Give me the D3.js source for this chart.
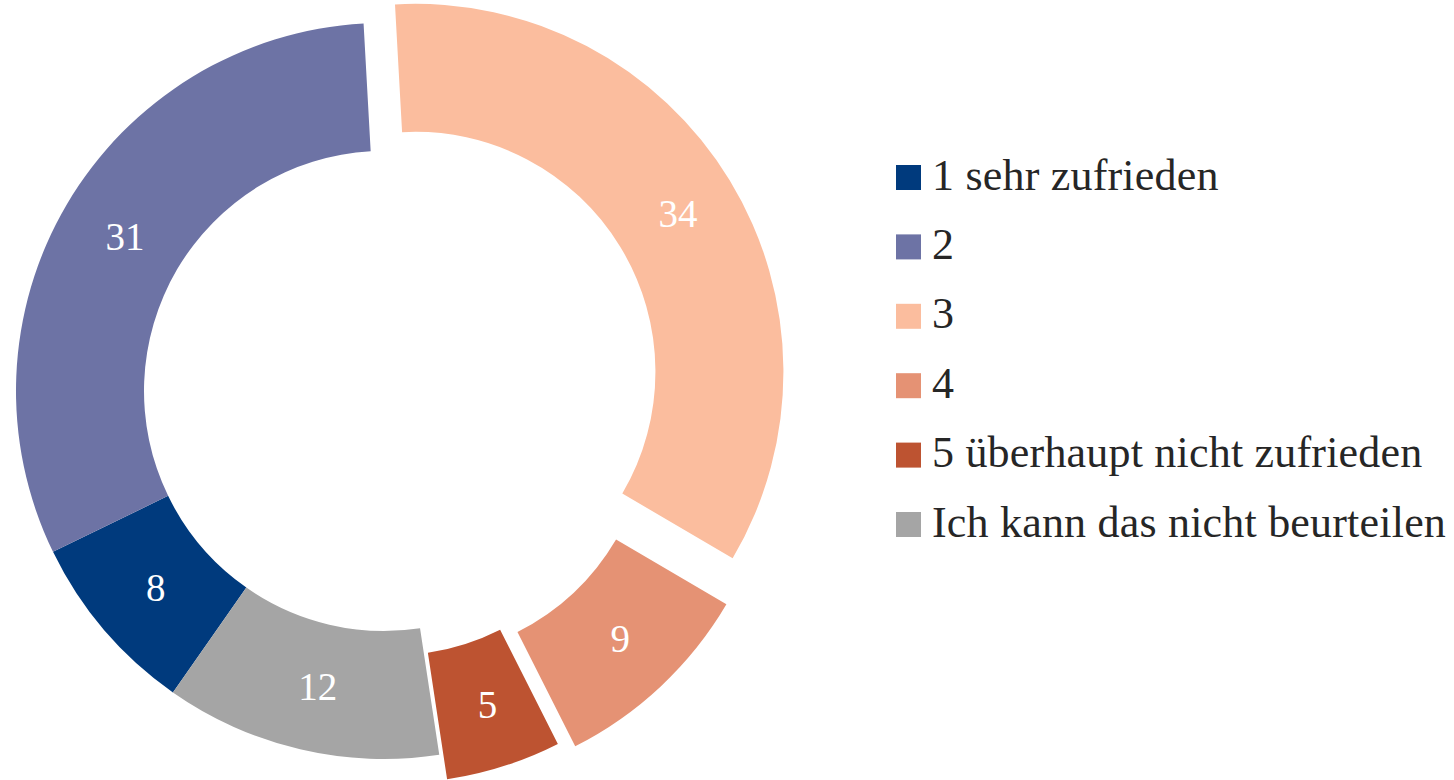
<!DOCTYPE html>
<html>
<head>
<meta charset="utf-8">
<script src="https://cdn.jsdelivr.net/npm/d3@7"></script>
<style>
  html, body { margin: 0; padding: 0; background: #fff; }
  svg { display: block; }
</style>
</head>
<body>
<div id="chart"></div>
<script>
// data
const categories = ['1 sehr zufrieden', '2', '3', '4', '5 überhaupt nicht zufrieden', 'Ich kann das nicht beurteilen']
const values = [8, 31, 34, 9, 5, 12]
const colors = ['#003a7d', '#6d73a5', '#fbbd9e', '#e59274', '#bd5331', '#a5a5a5']
// how far each slice is pulled out (fraction of the outer radius)
const explode = [0, 0, 0.1, 0.1, 0.07, 0]

// canvas
const width = 1454,
      height = 780,
      cx = 384,
      cy = 391,
      outerR = 368,
      innerR = 240,
      firstAngle = 215 * Math.PI / 180,
      font = '"Palatino Linotype", "Book Antiqua", Palatino, "Liberation Serif", serif'

let svg = d3.select('#chart')
  .append('svg')
  .attr('width', width)
  .attr('height', height)

let color = d3.scaleOrdinal().domain(categories).range(colors)

let pie = d3.pie()
  .sort(null)
  .value(d => d.value)
  .startAngle(firstAngle)
  .endAngle(firstAngle + 2 * Math.PI)

let arc = d3.arc()
  .innerRadius(innerR)
  .outerRadius(outerR)

let rows = categories.map((c, i) => ({ name: c, value: values[i], explode: explode[i] }))
let arcs = pie(rows)

let shift = (d) => {
  let mid = (d.startAngle + d.endAngle) / 2
  let r = d.data.explode * outerR
  return [Math.sin(mid) * r, -Math.cos(mid) * r]
}

let g = svg.append('g')
  .attr('transform', `translate(${cx},${cy})`)

let slice = g.selectAll('g.slice')
  .data(arcs)
  .enter()
  .append('g')
  .attr('class', 'slice')
  .attr('transform', d => `translate(${shift(d)})`)

slice.append('path')
  .attr('d', arc)
  .attr('fill', d => color(d.data.name))

slice.append('text')
  .attr('x', d => arc.centroid(d)[0] + 3)
  .attr('y', d => arc.centroid(d)[1])
  .attr('dy', '0.33em')
  .attr('text-anchor', 'middle')
  .style('font-family', font)
  .style('font-size', '39px')
  .style('fill', '#fff')
  .text(d => d.data.value)

// legend
let legendY = d3.scalePoint()
  .domain(categories)
  .range([177.5, 524.5])

let legend = svg.append('g')
  .selectAll('g')
  .data(categories)
  .enter()
  .append('g')
  .attr('transform', d => `translate(896,${legendY(d)})`)

legend.append('rect')
  .attr('x', 0)
  .attr('y', -12.5)
  .attr('width', 25)
  .attr('height', 25)
  .attr('fill', d => color(d))

legend.append('text')
  .attr('x', 36)
  .attr('y', 12)
  .style('font-family', font)
  .style('font-size', '44px')
  .style('letter-spacing', '0.2px')
  .style('fill', '#262626')
  .text(d => d)
</script>
</body>
</html>
